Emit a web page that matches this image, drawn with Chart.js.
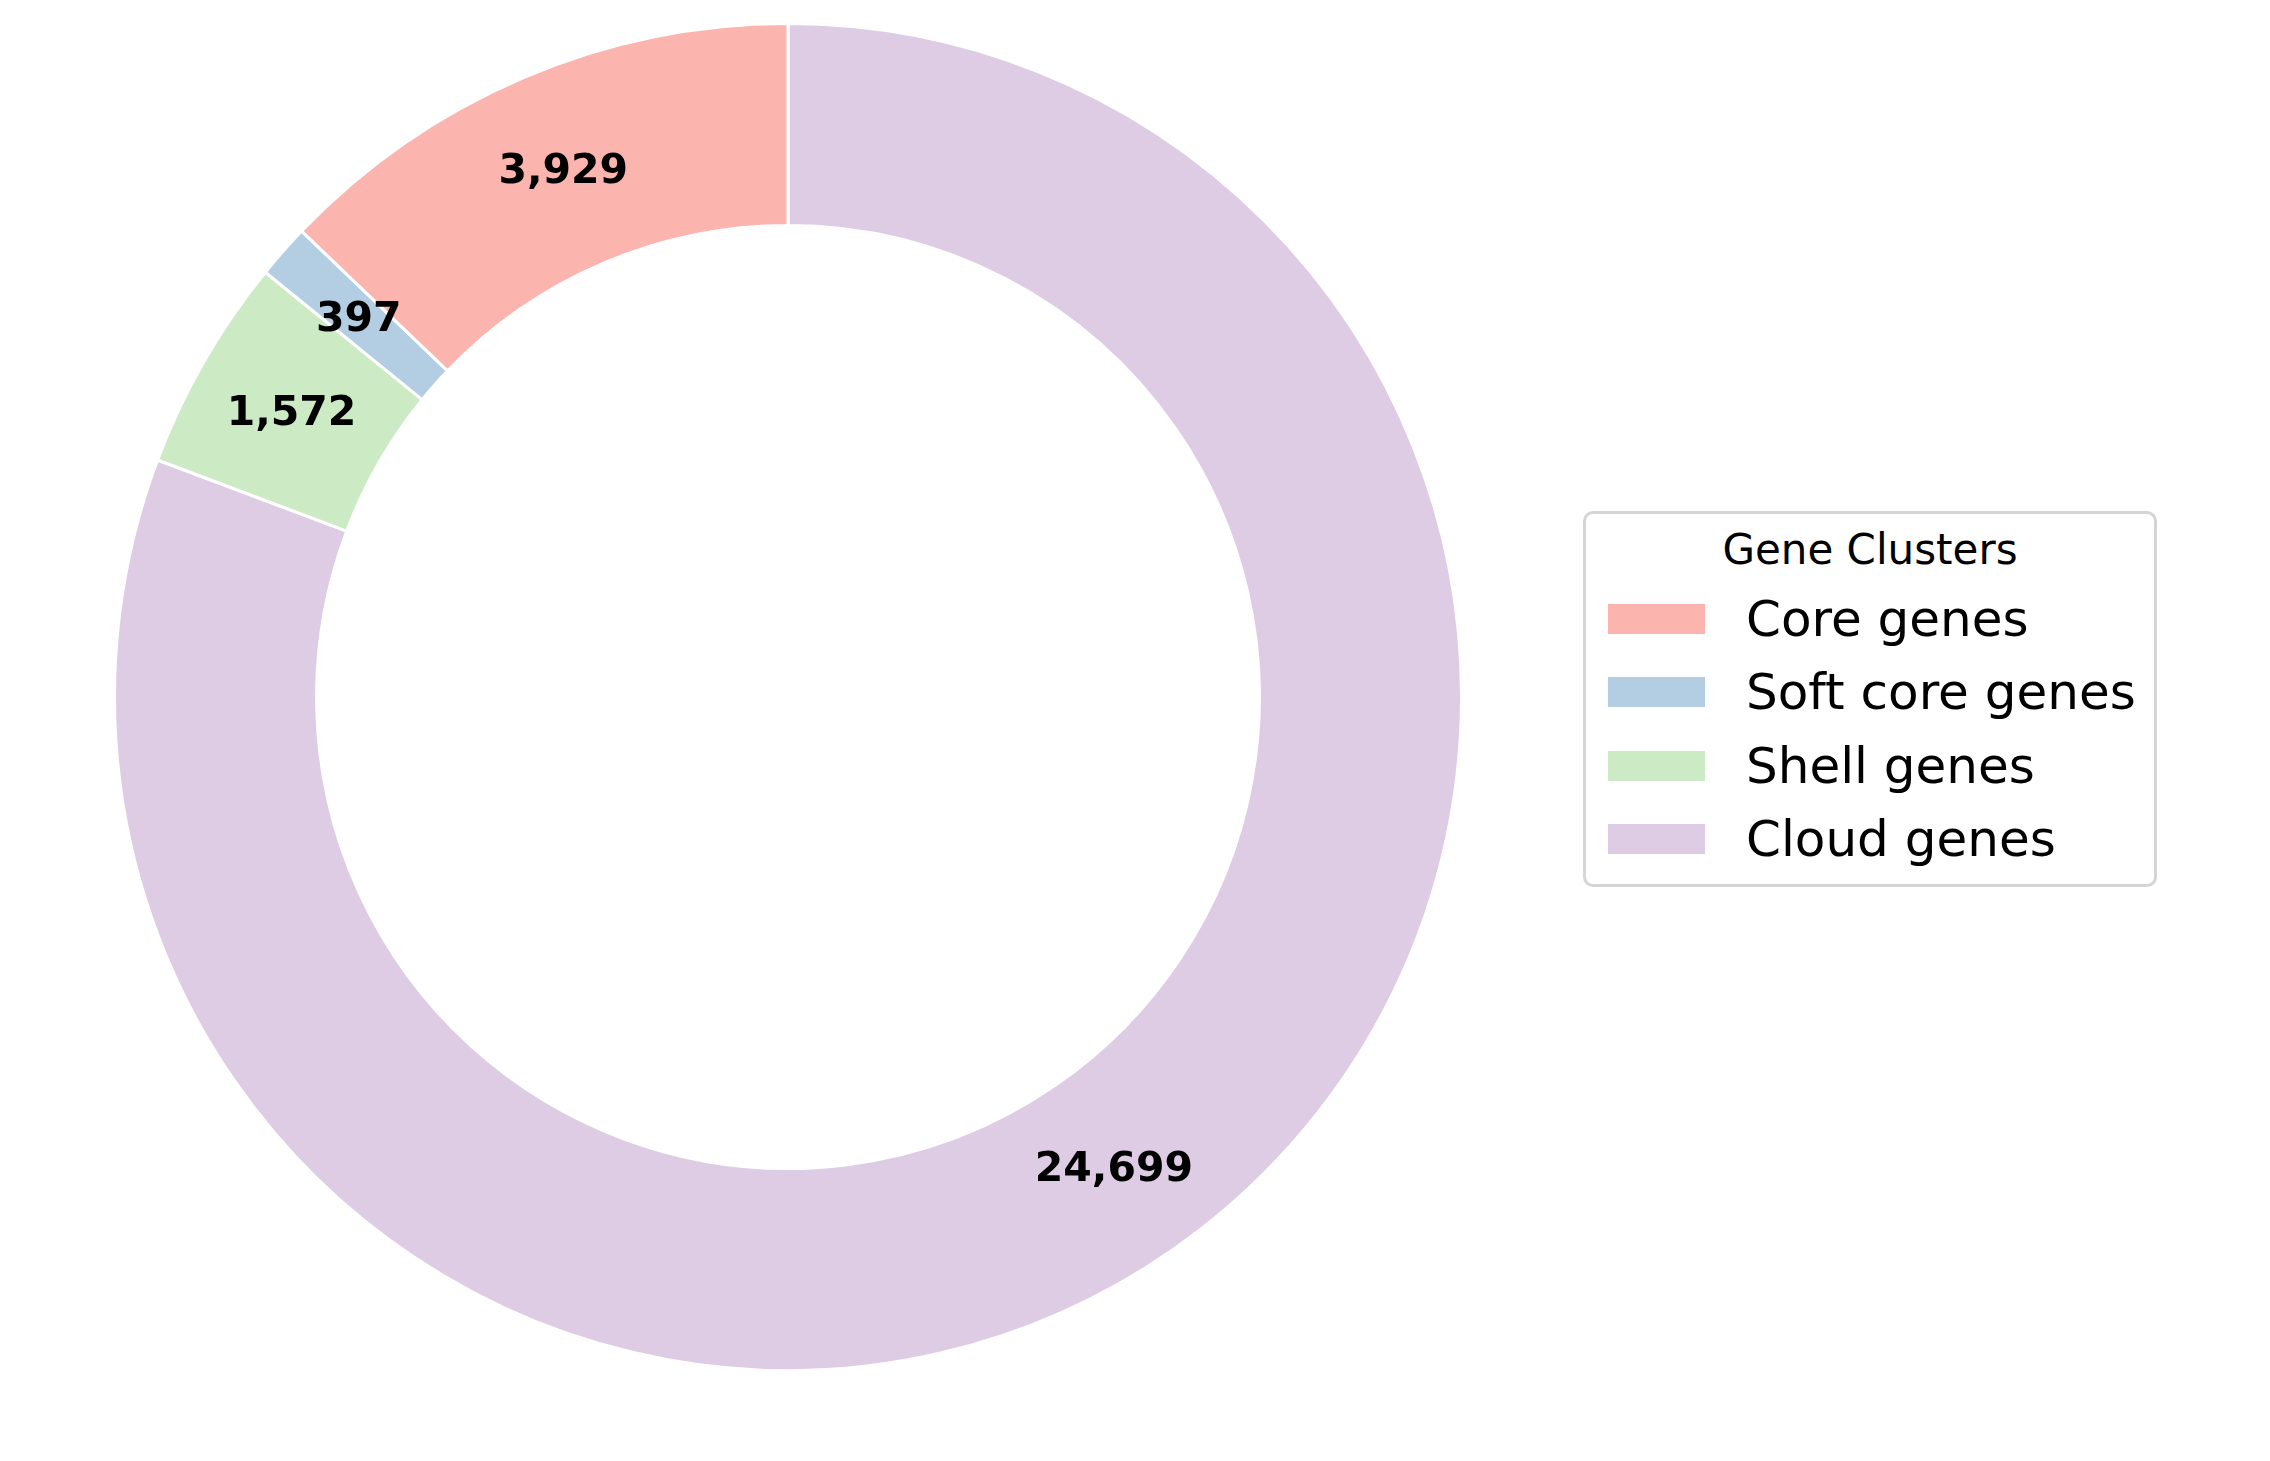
<!DOCTYPE html>
<html>
<head>
<meta charset="utf-8">
<script src="https://cdn.jsdelivr.net/npm/chart.js@4.4.1/dist/chart.umd.min.js"></script>
<style>
  html, body { margin: 0; padding: 0; background: #ffffff; }
  body { width: 2270px; height: 1461px; position: relative; overflow: hidden; font-family: "DejaVu Sans", sans-serif; }
  #pie { position: absolute; left: 113px; top: 22px; width: 1350px; height: 1350px; }
  #legend { position: absolute; left: 1583px; top: 511px; width: 568px; height: 370px;
            border: 3px solid #d5d5d5; border-radius: 10px; background: #fff; }
  #legend .title { position: absolute; left: 0; width: 100%; text-align: center; font-size: 42px; line-height: 42px; color: #000; white-space: nowrap; }
  #legend .sw { position: absolute; width: 97px; height: 30px; }
  #legend .lab { position: absolute; font-size: 50px; line-height: 50px; color: #000; white-space: nowrap; }
</style>
</head>
<body>
<div id="pie"><canvas id="c"></canvas></div>
<div id="legend"></div>
<script>
// gene cluster counts
var categories = ['Core genes', 'Soft core genes', 'Shell genes', 'Cloud genes'];
var counts = [3929, 397, 1572, 24699];
var colors = ['#fbb4ae', '#b3cde3', '#ccebc5', '#decbe4'];
var legendTitle = 'Gene Clusters';

// matplotlib draws counter-clockwise from the top, chart.js clockwise -> reverse order
var order = [3, 2, 1, 0];

var labelPlugin = {
  id: 'sliceLabels',
  afterDatasetsDraw: function(chart) {
    var ctx = chart.ctx;
    var meta = chart.getDatasetMeta(0);
    ctx.save();
    ctx.font = 'bold 41px "DejaVu Sans"';
    ctx.fillStyle = '#000';
    ctx.textAlign = 'center';
    ctx.textBaseline = 'alphabetic';
    meta.data.forEach(function(arc, i) {
      var p = arc.getCenterPoint();
      var v = chart.data.datasets[0].data[i];
      ctx.fillText(v.toLocaleString('en-US'), p.x, p.y + 13);
    });
    ctx.restore();
  }
};

var chart = new Chart(document.getElementById('c'), {
  type: 'doughnut',
  data: {
    labels: order.map(function(i) { return categories[i]; }),
    datasets: [{
      data: order.map(function(i) { return counts[i]; }),
      backgroundColor: order.map(function(i) { return colors[i]; }),
      borderColor: '#ffffff',
      borderWidth: 3,
      hoverOffset: 0
    }]
  },
  options: {
    responsive: true,
    maintainAspectRatio: false,
    animation: false,
    devicePixelRatio: 1,
    cutout: '70%',
    rotation: 0,
    layout: { padding: 0 },
    plugins: {
      legend: { display: false },
      tooltip: { enabled: false }
    }
  },
  plugins: [labelPlugin]
});

// legend box, same layout as the matplotlib one
var leg = document.getElementById('legend');
var t = document.createElement('div');
t.className = 'title';
t.textContent = legendTitle;
t.style.top = (564 - 511 - 3 - 35.5) + 'px';
leg.appendChild(t);
categories.forEach(function(name, i) {
  var sw = document.createElement('div');
  sw.className = 'sw';
  sw.style.background = colors[i];
  sw.style.left = (1608 - 1586) + 'px';
  sw.style.top = (604 + i * 73.4 - 514) + 'px';
  leg.appendChild(sw);
  var lab = document.createElement('div');
  lab.className = 'lab';
  lab.textContent = name;
  lab.style.left = (1746 - 1586) + 'px';
  lab.style.top = (636 + i * 73.4 - 42.3 - 514) + 'px';
  leg.appendChild(lab);
});
</script>
</body>
</html>
